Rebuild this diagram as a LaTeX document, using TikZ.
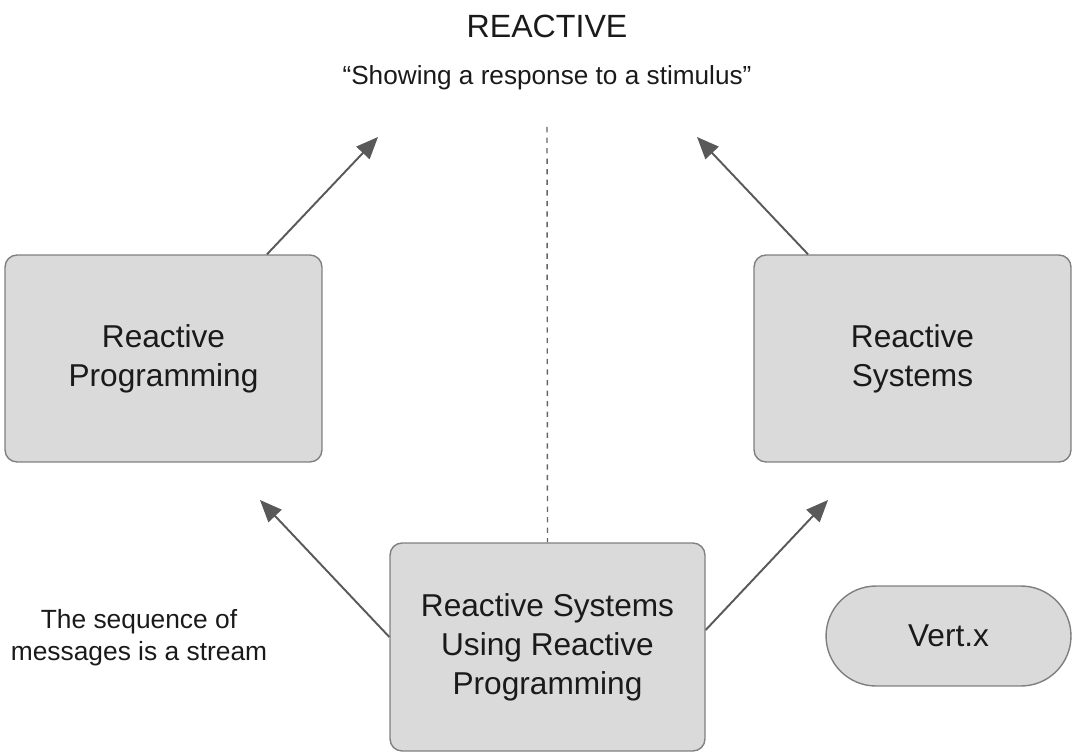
\documentclass[tikz,border=0pt]{standalone}
\usepackage{fontspec}
\setmainfont{Liberation Sans}
\usetikzlibrary{arrows.meta,positioning}

\definecolor{boxfill}{HTML}{DADADA}
\definecolor{boxline}{HTML}{7F7F7F}
\definecolor{arrowgray}{HTML}{595959}
\definecolor{textdark}{HTML}{1A1A1A}

\tikzset{
  block/.style={draw=boxline, fill=boxfill, line width=0.8pt, rounded corners=0.24cm,
    text=textdark, align=center, font=\fontsize{18}{22.2}\selectfont},
  pill/.style={block, rounded corners=1cm},
  toarrow/.style={draw=arrowgray, line width=1.1pt, -{Triangle[length=0.44cm,width=0.36cm]}}
}

\begin{document}
\begin{tikzpicture}[x=0.02cm,y=-0.02cm]
\useasboundingbox (0,0) rectangle (1077,756);

\begin{scope}
\node[text=textdark, font=\fontsize{18.3}{22}\selectfont] (title) at (547,26) {REACTIVE};
\node[text=textdark, font=\fontsize{14.9}{18}\selectfont] (quote) at (547,78) {“Showing a response to a stimulus”};

\node[block, minimum width=6.34cm, minimum height=4.14cm] (rp) at (163.5,358.5) {Reactive\\Programming};
\node[block, minimum width=6.34cm, minimum height=4.14cm] (rsys) at (912.5,358.5) {Reactive\\Systems};
\node[block, minimum width=6.3cm, minimum height=4.16cm] (rsrp) at (547.5,647) {Reactive Systems\\Using Reactive\\Programming};
\node[pill, minimum width=4.9cm, minimum height=2cm] (vertx) at (948.5,636) {Vert.x};

\node[text=textdark, align=center, font=\fontsize{15}{18.2}\selectfont] (stream) at (139,638) {The sequence of\\messages is a stream};

\coordinate (rptip) at (378,137);
\coordinate (rsystip) at (697,137);
\coordinate (lefttip) at (260,500);
\coordinate (righttip) at (828,500);
\coordinate (divtop) at (547,127);

\draw[dashed, boxline!80!black, line width=0.8pt] (divtop) -- (rsrp.north);

\draw[toarrow] ([xshift=2.07cm]rp.north) -- (rptip);
\draw[toarrow] ([xshift=-2.09cm]rsys.north) -- (rsystip);
\draw[toarrow] ([yshift=0.2cm]rsrp.west) -- (lefttip);
\draw[toarrow] ([yshift=0.34cm]rsrp.east) -- (righttip);
\end{scope}

\end{tikzpicture}
\end{document}
